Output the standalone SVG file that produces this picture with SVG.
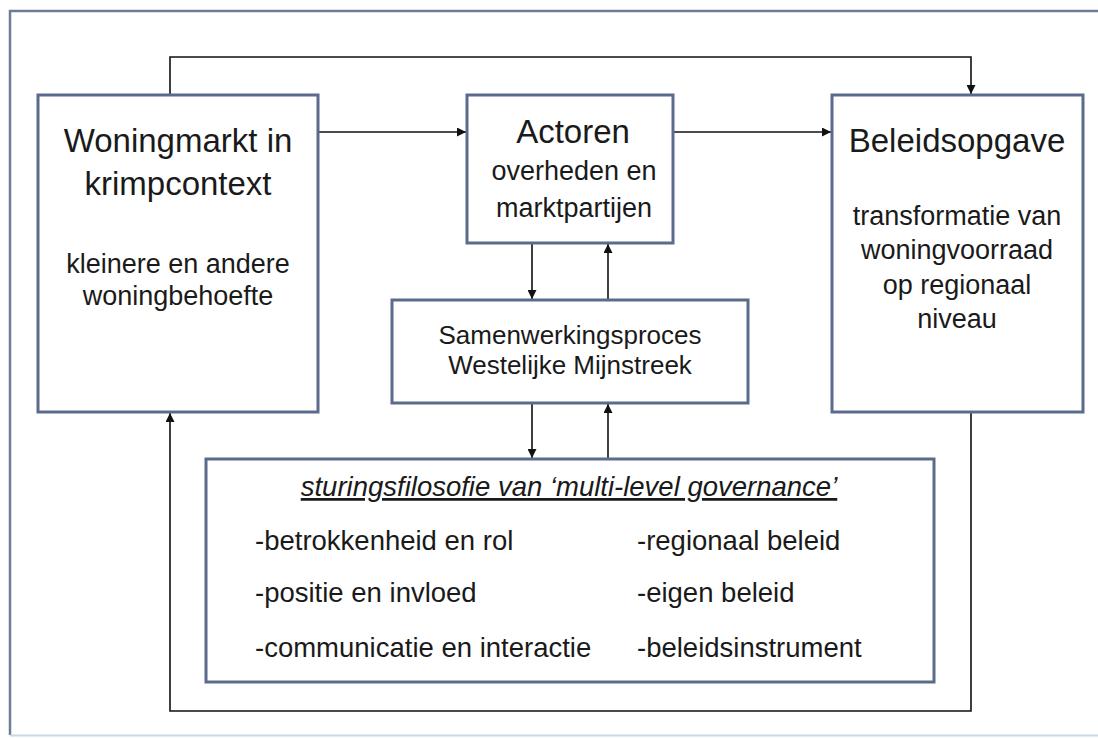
<svg xmlns="http://www.w3.org/2000/svg" width="1098" height="738" viewBox="0 0 1098 738">
<style>
.box{fill:#ffffff;stroke:#5a6b8e;stroke-width:3}
.con{fill:none;stroke:#111111;stroke-width:1.6}
.t{font-family:"Liberation Sans",Arial,sans-serif;fill:#1a1a1a;text-anchor:middle}
.h{font-size:33px}
.s{font-size:27px}
.l{font-family:"Liberation Sans",Arial,sans-serif;fill:#1a1a1a;font-size:27.5px}
</style>
<defs>
<marker id="ah" viewBox="0 0 10 10" refX="10" refY="5" markerWidth="9" markerHeight="9" markerUnits="userSpaceOnUse" orient="auto">
<path d="M0,0 L10,5 L0,10 z" fill="#111111"/>
</marker>
</defs>
<rect width="1098" height="738" fill="#ffffff"/>
<g id="frame">
<path d="M1098,11 H10 V735" fill="none" stroke="#6f7c99" stroke-width="2.5"/>
<line x1="10" y1="735.5" x2="1098" y2="735.5" stroke="#c4dbe2" stroke-width="2"/>
</g>
<g id="connectors">
<path class="con" d="M170,95 V57 H971 V94" marker-end="url(#ah)"/>
<path class="con" d="M318,132 H466" marker-end="url(#ah)"/>
<path class="con" d="M673,132 H831" marker-end="url(#ah)"/>
<path class="con" d="M532,243 V299" marker-end="url(#ah)"/>
<path class="con" d="M608,300 V244" marker-end="url(#ah)"/>
<path class="con" d="M532,403 V458" marker-end="url(#ah)"/>
<path class="con" d="M608,459 V404" marker-end="url(#ah)"/>
<path class="con" d="M971,412 V711 H170 V413" marker-end="url(#ah)"/>
</g>
<g id="woningmarkt">
<rect class="box" x="38" y="95" width="280" height="317"/>
<text class="t h" x="178" y="152">Woningmarkt in</text>
<text class="t h" x="178" y="195">krimpcontext</text>
<text class="t s" x="178" y="273">kleinere en andere</text>
<text class="t s" x="178" y="305">woningbehoefte</text>
</g>
<g id="actoren">
<rect class="box" x="467" y="95" width="206" height="148"/>
<text class="t h" x="573" y="143">Actoren</text>
<text class="t s" x="574" y="180">overheden en</text>
<text class="t s" x="574" y="217">marktpartijen</text>
</g>
<g id="beleidsopgave">
<rect class="box" x="832" y="95" width="251" height="317"/>
<text class="t h" x="957" y="152">Beleidsopgave</text>
<text class="t s" x="957" y="225">transformatie van</text>
<text class="t s" x="957" y="259">woningvoorraad</text>
<text class="t s" x="957" y="294">op regionaal</text>
<text class="t s" x="957" y="328">niveau</text>
</g>
<g id="samenwerkingsproces">
<rect class="box" x="392" y="300" width="356" height="103"/>
<text class="t" style="font-size:26px" x="570" y="344">Samenwerkingsproces</text>
<text class="t" style="font-size:26px" x="570" y="374">Westelijke Mijnstreek</text>
</g>
<g id="sturingsfilosofie">
<rect class="box" x="206" y="459" width="728" height="223"/>
<text class="t" style="font-size:27.5px;font-style:italic;text-decoration:underline" x="569" y="496">sturingsfilosofie van ‘multi-level governance’</text>
<text class="l" x="255" y="550">-betrokkenheid en rol</text>
<text class="l" x="255" y="602">-positie en invloed</text>
<text class="l" x="255" y="657">-communicatie en interactie</text>
<text class="l" x="637" y="550">-regionaal beleid</text>
<text class="l" x="637" y="602">-eigen beleid</text>
<text class="l" x="637" y="657">-beleidsinstrument</text>
</g>
</svg>
